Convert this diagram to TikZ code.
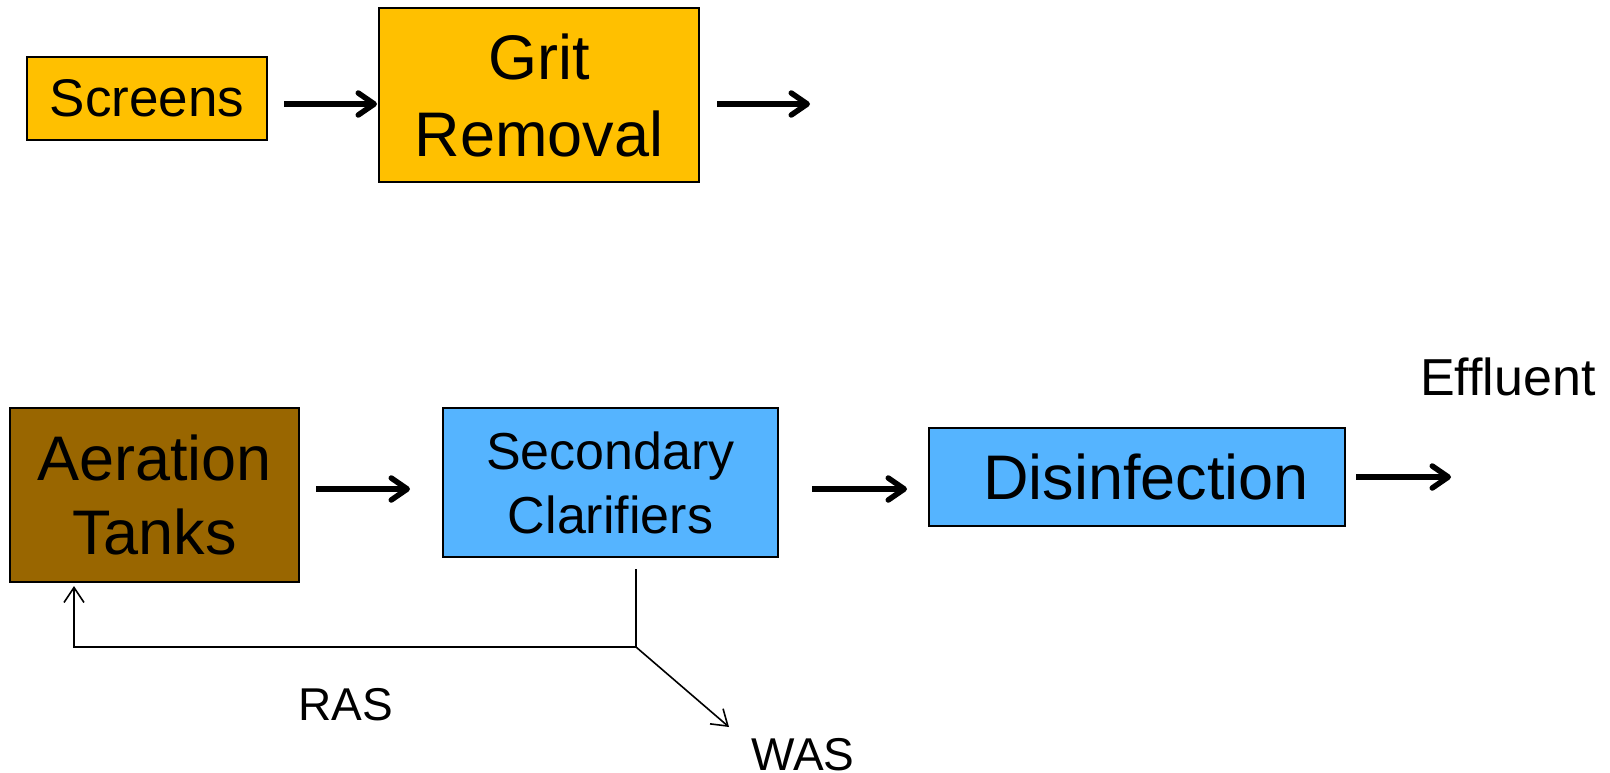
\documentclass[tikz,border=0pt]{standalone}
\usepackage{fontspec}
\setmainfont{Liberation Sans}
\usetikzlibrary{arrows.meta}
\definecolor{orng}{HTML}{FFC000}
\definecolor{brwn}{HTML}{996600}
\definecolor{skyb}{HTML}{55B4FF}
\begin{document}
\begin{tikzpicture}[x=1pt,y=-1pt,
  box/.style={draw=black,line width=2pt,inner sep=0pt,align=center},
  bigarrow/.style={line width=5.5pt,-{Straight Barb[length=16pt,width=22pt,line cap=round,line join=round]}},
  thinarrow/.style={line width=1.6pt,-{Straight Barb[length=15pt,width=20pt]}},
  thinline/.style={line width=1.6pt},
  lbl/.style={inner sep=0pt,align=center}]
\useasboundingbox (0,0) rectangle (1610,772);
\fill[white] (0,0) rectangle (1610,772);

\node[box,fill=orng,minimum width=240pt,minimum height=83pt,
  font=\fontsize{53}{60}\selectfont] (scr) at (147,98) {Screens};
\node[box,fill=orng,minimum width=320pt,minimum height=174pt,
  font=\fontsize{63}{77}\selectfont] (grit) at (539,95) {Grit\\Removal};
\node[box,fill=brwn,minimum width=289pt,minimum height=174pt,
  font=\fontsize{63}{74}\selectfont] (aer) at (154.5,495) {Aeration\\Tanks};
\node[box,fill=skyb,minimum width=335pt,minimum height=149pt,
  font=\fontsize{52}{64}\selectfont] (cla) at (610.5,482.5) {Secondary\\Clarifiers};
\node[box,fill=skyb,minimum width=416pt,minimum height=98pt,
  font=\fontsize{63}{74}\selectfont] (dis) at (1137,477) {\hspace{18pt}Disinfection};

\node[lbl,font=\fontsize{52}{60}\selectfont] (eff) at (1508,377) {Effluent};
\node[lbl,font=\fontsize{46}{54}\selectfont] (ras) at (346,705) {RAS};
\node[lbl,font=\fontsize{46}{54}\selectfont] (was) at (803,755) {WAS};

\coordinate (gout) at (810,104);
\coordinate (dout) at (1451,477);
\coordinate (jn) at (636,647);
\coordinate (rc) at (74,647);
\coordinate (wend) at (729,727);

\draw[bigarrow] ([xshift=16pt,yshift=-6pt]scr.east) -- ([xshift=-1pt,yshift=-9pt]grit.west);
\draw[bigarrow] ([xshift=17pt,yshift=-9pt]grit.east) -- (gout);
\draw[bigarrow] ([xshift=16pt,yshift=6pt]aer.east) -- ([xshift=-32pt,yshift=-6.5pt]cla.west);
\draw[bigarrow] ([xshift=33pt,yshift=-6.5pt]cla.east) -- ([xshift=-21pt,yshift=-12pt]dis.west);
\draw[bigarrow] ([xshift=10pt]dis.east) -- (dout);

\draw[thinline] ([yshift=-11pt]cla.south -| jn) -- (jn);
\draw[thinarrow] (jn) -- (rc) -- ([yshift=-3pt]aer.south -| rc);
\draw[thinarrow] (jn) -- (wend);
\end{tikzpicture}
\end{document}
